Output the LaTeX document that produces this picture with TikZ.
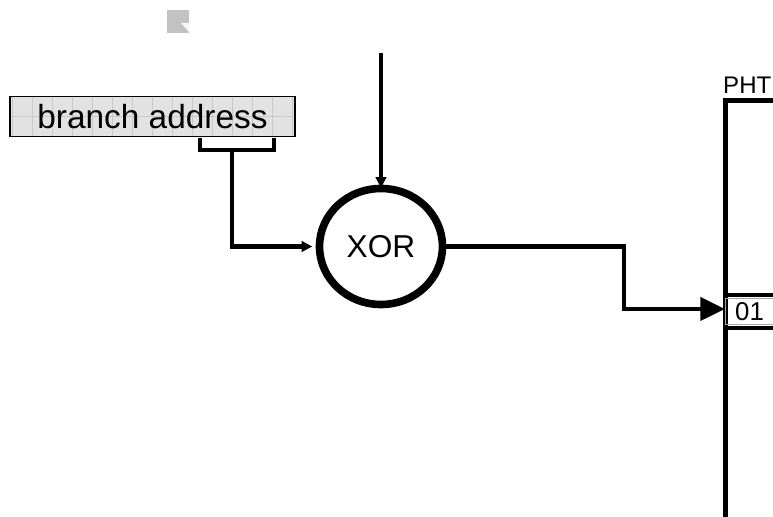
\documentclass[tikz,border=0pt]{standalone}
\usepackage{fontspec}
\setmainfont{Liberation Sans}
\usetikzlibrary{arrows.meta,shapes.geometric}

\definecolor{boxgray}{HTML}{E2E2E2}
\definecolor{gridgray}{HTML}{C9C9C9}
\definecolor{markgray}{HTML}{C2C2C2}

\begin{document}
\begin{tikzpicture}[
    x=0.03cm, y=-0.03cm,
    wire/.style={line width=4pt, line join=miter},
    addrbox/.style={rectangle, draw, line width=1pt, fill=boxgray, minimum width=8.55cm, minimum height=1.2cm, inner sep=0pt, font=\fontsize{28.5}{30}\selectfont},
    gate/.style={ellipse, draw, line width=6.5pt, minimum width=3.69cm, minimum height=3.48cm, inner sep=0pt, font=\fontsize{27}{30}\selectfont},
    table/.style={rectangle, draw, line width=4.25pt, minimum width=1.49cm, minimum height=13.5cm, inner sep=0pt, anchor=north west},
    cell/.style={rectangle, draw=gray!70, line width=0.8pt, minimum width=1.45cm, minimum height=0.8cm, inner sep=0pt, font=\fontsize{22}{24}\selectfont},
    smalltip/.style={-{Triangle[width=9pt,length=9pt]}},
    bigtip/.style={-{Triangle[width=19.5pt,length=21pt]}}
]
    \useasboundingbox (0,0) rectangle (773,517);
    \clip (0,0) rectangle (773,517);

    % corner mark
    \fill[markgray] (167,10) rectangle (189,33);
    \fill[white!85!markgray] (181,23) -- (189,23) -- (189,32) -- cycle;

    % address register with its grid
    \node[addrbox] (addr) at (152.5,116.5) {};
    \begin{scope}
        \clip (10,96.5) rectangle (295,136.5);
        \foreach \gx in {12,32,...,292}
            \draw[gridgray, line width=0.6pt] (\gx,96) -- (\gx,137);
        \draw[gridgray, line width=0.6pt] (10,116) -- (295,116);
    \end{scope}
    \node[addrbox, fill=none] at (addr) {branch address};

    % hash gate
    \node[gate] (xorgate) at (381,246.5) {XOR};
    \coordinate (histin) at (381,53);

    % pattern history table
    \node[table] (pht) at (723,98) {};
    \node[anchor=south west, inner sep=0pt, font=\fontsize{20.5}{24}\selectfont] (phtlabel) at ([yshift=4pt]pht.north west) {PHT};
    \node[cell] (entry) at (749.5,311.5) {01};
    \draw[line width=3.6pt] (723,295) -- (775,295);
    \draw[line width=3.6pt] (723,328) -- (775,328);

    % bit field bracket under the address
    \draw[wire] (200,138) -- (200,150) -- (274,150) -- (274,138);
    \coordinate (field) at (232,150);

    % connections
    \draw[wire, smalltip] (histin) -- ([yshift=-2.5pt]xorgate.north);
    \draw[wire, smalltip] (field) |- ([xshift=-3pt]xorgate.west);
    \draw[wire, bigtip] (xorgate.east) -| (624,309) -- (entry.west |- 0,309);
\end{tikzpicture}
\end{document}
